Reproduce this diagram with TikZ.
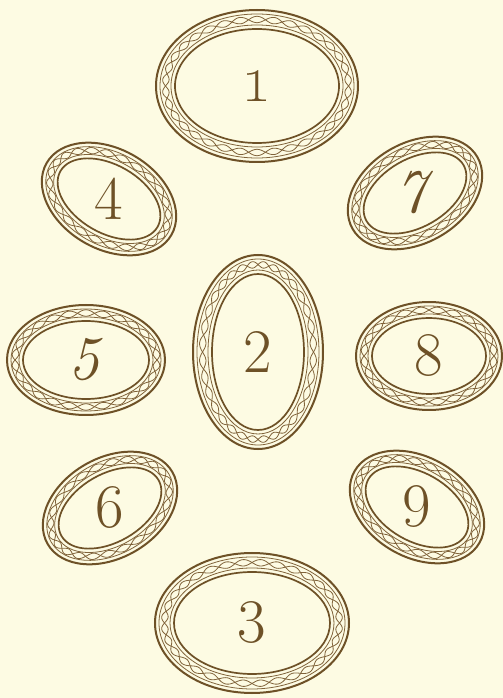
\documentclass[tikz,border=0pt]{standalone}
\usepackage{tikz}
\definecolor{FramePaper}{HTML}{FDFBE3}
\definecolor{FrameBrown}{HTML}{6E5127}
\definecolor{FrameCord}{HTML}{80633A}
\tikzset{
  outerring/.style={draw=FrameBrown,line width=1pt},
  innerring/.style={draw=FrameBrown,line width=0.85pt},
  cordline/.style={draw=FrameCord,line width=0.4pt},
  numlabel/.style={text=FrameBrown,inner sep=0pt,font=\fontsize{31}{31}\selectfont}
}
% #1 name, #2 centre, #3 x radius, #4 y radius, #5 tilt, #6 band, #7 number
\newcommand{\ovalframe}[7]{%
  \begin{scope}[shift={#2},rotate=#5]
    \pgfmathsetmacro\bandmid{#6/2}
    \pgfmathtruncatemacro\cordN{(#3+#4)/10}
    \draw[outerring] (0,0) ellipse [x radius=#3, y radius=#4];
    \draw[innerring] (0,0) ellipse [x radius=#3-#6, y radius=#4-#6];
    \draw[cordline] (0,0) ellipse [x radius=#3-4, y radius=#4-4];
    \draw[cordline] (0,0) ellipse [x radius=#3-#6+4, y radius=#4-#6+4];
    \foreach \s in {3.2,-3.2}
      \draw[cordline] plot[domain=0:360,samples=361,smooth]
        ({((#3-\bandmid)+(\s)*sin(\cordN*\x))*cos(\x)},
         {((#4-\bandmid)+(\s)*sin(\cordN*\x))*sin(\x)});
  \end{scope}
  \node[numlabel] (#1) at #2 {#7};
}

\begin{document}
\begin{tikzpicture}[x=0.5pt,y=0.5pt]
    \path[use as bounding box,fill=FramePaper] (0,0) rectangle (503,698);

    \ovalframe{one}{(257,612)}{101}{76}{0}{19}{\fontsize{40}{40}\selectfont\oldstylenums{1}}
    \ovalframe{four}{(109,499)}{72}{50}{-30}{16}{4}
    \ovalframe{seven}{(415,505)}{72}{50}{30}{16}{\textit{7}}

    \ovalframe{five}{(86,338)}{79}{55}{0}{16}{\textit{5}}
    \ovalframe{two}{(258,346)}{65}{97}{0}{19}{2}
    \ovalframe{eight}{(429,342)}{73}{54}{0}{16}{8}

    \ovalframe{six}{(110,190)}{72}{50}{30}{16}{6}
    \ovalframe{nine}{(417,191)}{72}{50}{-30}{16}{9}
    \ovalframe{three}{(252,75)}{97}{70}{0}{19}{3}
\end{tikzpicture}
\end{document}
